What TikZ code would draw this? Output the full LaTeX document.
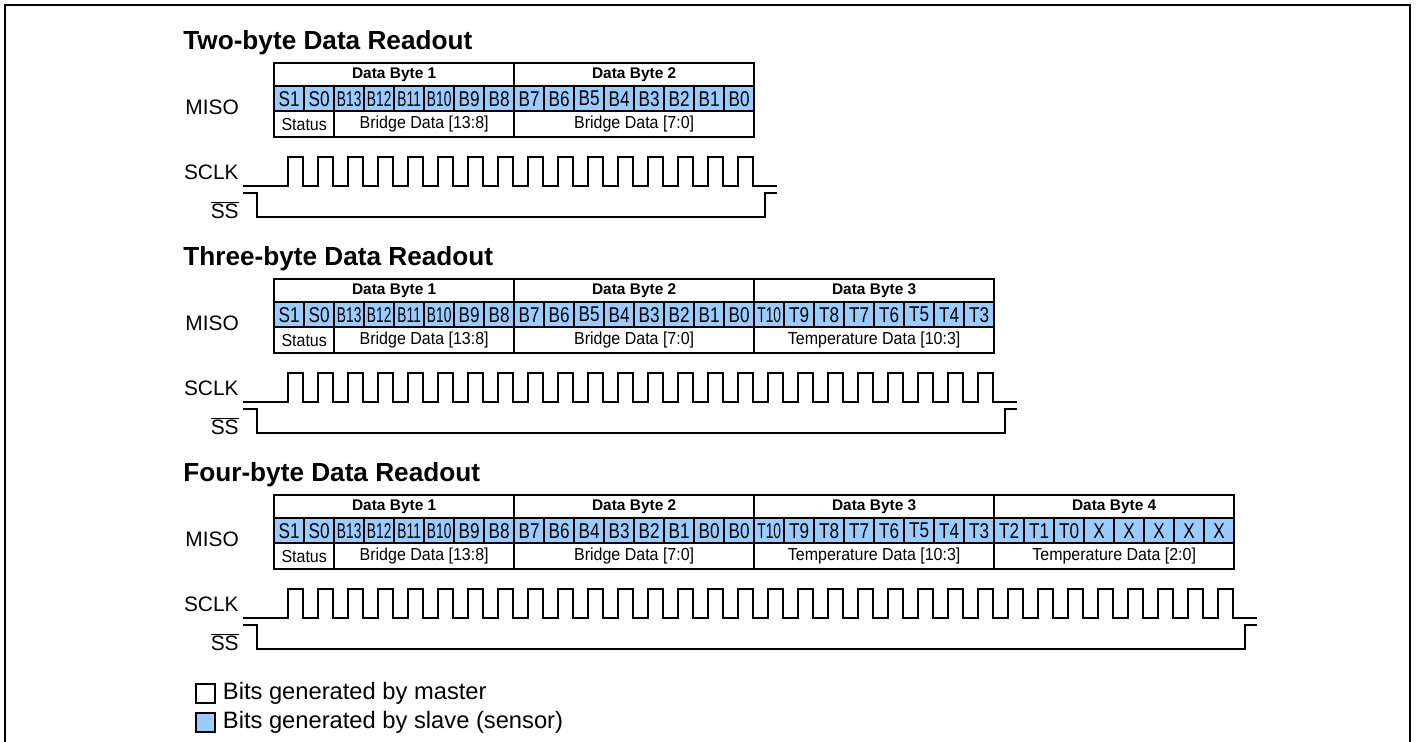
\documentclass[tikz,border=0pt]{standalone}
\usepackage{fontspec}
\setmainfont{Liberation Sans}
\newfontfamily\narrowfont[FakeStretch=0.8]{Liberation Sans}
\newfontfamily\tightfont[FakeStretch=0.64]{Liberation Sans}
\newfontfamily\fieldfont[FakeStretch=0.92]{Liberation Sans}
\usepackage{tikz}
\usetikzlibrary{positioning}
\definecolor{slaveblue}{RGB}{153,204,255}
\tikzset{
  outerframe/.style={draw=black,line width=1.3pt},
  readtitle/.style={anchor=base west,inner sep=0,font=\bfseries\fontsize{14.9}{16}\selectfont},
  siglabel/.style={inner sep=0,font=\fontsize{11.9}{13}\selectfont},
  bytehead/.style={draw=black,line width=1.35pt,anchor=north west,inner sep=0,minimum width=4.8cm,minimum height=0.46cm,font=\bfseries\fontsize{8.8}{10}\selectfont},
  bitcell/.style={draw=black,line width=1.35pt,fill=slaveblue,anchor=north west,inner sep=0,minimum width=0.6cm,minimum height=0.5cm,font=\narrowfont\fontsize{12.2}{13}\selectfont},
  fieldbox/.style={draw=black,line width=1.35pt,anchor=north west,inner sep=0,minimum height=0.52cm,font=\fieldfont\fontsize{9.9}{11}\selectfont},
  wave/.style={draw=black,line width=1.15pt},
  legbox/.style={draw=black,line width=0.9pt,anchor=north west,inner sep=0,minimum size=0.38cm},
  legtext/.style={inner sep=0,font=\fontsize{13.5}{15}\selectfont}
}

\begin{document}
\begin{tikzpicture}[x=0.02cm,y=-0.02cm]
  \useasboundingbox (0,0) rectangle (1416,742);
  \draw[outerframe] (5,742) -- (5,5) -- (1410,5) -- (1410,742);

  % two-byte readout
  \begin{scope}
    \node[readtitle] (title1) at (183,50) {Two-byte Data Readout};
    \foreach \n [count=\i from 0] in {1,2}
      \node[bytehead] (byte1-\n) at (273+240*\i,62) {Data Byte \n};
    \foreach \b [count=\i from 0] in {S1,S0,{\tightfont B13},{\tightfont B12},{\tightfont B11},{\tightfont B10},B9,B8,B7,B6,B5,B4,B3,B2,B1,B0}
      \node[bitcell] (bit1-\i) at (273+30*\i,85) {\b};
    \foreach \x/\w/\t [count=\i] in {273/1.2/Status,333/3.6/Bridge Data [13:8],513/4.8/Bridge Data [7:0]}
      \node[fieldbox,minimum width=\w cm] (fld1-\i) at (\x,110) {\t};
    \node[siglabel,anchor=west] (miso1) at (185,107) {MISO};
    \node[siglabel,anchor=east] (sclk1) at (239,172) {SCLK};
    \node[siglabel,anchor=east] (ss1) at (239,210) {$\overline{\mbox{SS}}$};
    \coordinate (clk1) at (243,186);
    \coordinate (sel1) at (243,193);
    \draw[wave] (clk1) -- (288,186)
      \foreach \p in {1,...,16} { -- ++(0,-29) -- ++(15,0) -- ++(0,29) -- ++(15,0) } -- (777,186);
    \draw[wave] (sel1) -| (257,217) -| (765,193) -- (777,193);
  \end{scope}

  % three-byte readout
  \begin{scope}[shift={(0,216)}]
    \node[readtitle] (title2) at (183,50) {Three-byte Data Readout};
    \foreach \n [count=\i from 0] in {1,2,3}
      \node[bytehead] (byte2-\n) at (273+240*\i,62) {Data Byte \n};
    \foreach \b [count=\i from 0] in {S1,S0,{\tightfont B13},{\tightfont B12},{\tightfont B11},{\tightfont B10},B9,B8,B7,B6,B5,B4,B3,B2,B1,B0,{\tightfont T10},T9,T8,T7,T6,T5,T4,T3}
      \node[bitcell] (bit2-\i) at (273+30*\i,85) {\b};
    \foreach \x/\w/\t [count=\i] in {273/1.2/Status,333/3.6/Bridge Data [13:8],513/4.8/Bridge Data [7:0],753/4.8/Temperature Data [10:3]}
      \node[fieldbox,minimum width=\w cm] (fld2-\i) at (\x,110) {\t};
    \node[siglabel,anchor=west] (miso2) at (185,107) {MISO};
    \node[siglabel,anchor=east] (sclk2) at (239,172) {SCLK};
    \node[siglabel,anchor=east] (ss2) at (239,210) {$\overline{\mbox{SS}}$};
    \coordinate (clk2) at (243,186);
    \coordinate (sel2) at (243,193);
    \draw[wave] (clk2) -- (288,186)
      \foreach \p in {1,...,24} { -- ++(0,-29) -- ++(15,0) -- ++(0,29) -- ++(15,0) } -- (1017,186);
    \draw[wave] (sel2) -| (257,217) -| (1005,193) -- (1017,193);
  \end{scope}

  % four-byte readout
  \begin{scope}[shift={(0,432)}]
    \node[readtitle] (title3) at (183,50) {Four-byte Data Readout};
    \foreach \n [count=\i from 0] in {1,2,3,4}
      \node[bytehead] (byte3-\n) at (273+240*\i,62) {Data Byte \n};
    \foreach \b [count=\i from 0] in {S1,S0,{\tightfont B13},{\tightfont B12},{\tightfont B11},{\tightfont B10},B9,B8,B7,B6,B4,B3,B2,B1,B0,B0,{\tightfont T10},T9,T8,T7,T6,T5,T4,T3,T2,T1,T0,X,X,X,X,X}
      \node[bitcell] (bit3-\i) at (273+30*\i,85) {\b};
    \foreach \x/\w/\t [count=\i] in {273/1.2/Status,333/3.6/Bridge Data [13:8],513/4.8/Bridge Data [7:0],753/4.8/Temperature Data [10:3],993/4.8/Temperature Data [2:0]}
      \node[fieldbox,minimum width=\w cm] (fld3-\i) at (\x,110) {\t};
    \node[siglabel,anchor=west] (miso3) at (185,107) {MISO};
    \node[siglabel,anchor=east] (sclk3) at (239,172) {SCLK};
    \node[siglabel,anchor=east] (ss3) at (239,210) {$\overline{\mbox{SS}}$};
    \coordinate (clk3) at (243,186);
    \coordinate (sel3) at (243,193);
    \draw[wave] (clk3) -- (288,186)
      \foreach \p in {1,...,32} { -- ++(0,-29) -- ++(15,0) -- ++(0,29) -- ++(15,0) } -- (1257,186);
    \draw[wave] (sel3) -| (257,217) -| (1245,193) -- (1257,193);
  \end{scope}

  % legend
  \node[legbox,fill=white] (mbox) at (195,683) {};
  \node[legtext,right=0.14cm of mbox] (mtext) {Bits generated by master};
  \node[legbox,fill=slaveblue] (sbox) at (195,712) {};
  \node[legtext,right=0.14cm of sbox] (stext) {Bits generated by slave (sensor)};
\end{tikzpicture}
\end{document}
